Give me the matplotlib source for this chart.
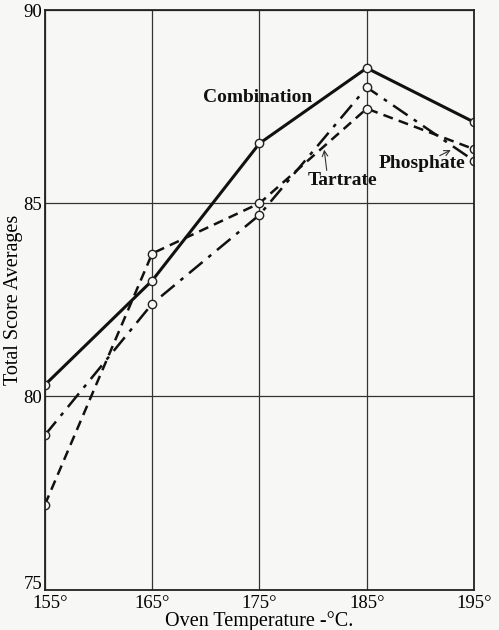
import matplotlib
matplotlib.use("Agg")
import matplotlib.pyplot as plt
import matplotlib.transforms as mtransforms

temps = [155, 165, 175, 185, 195]
combination = [80.3, 83.0, 86.55, 88.5, 87.1]
tartrate = [79.0, 82.4, 84.7, 88.0, 86.1]
phosphate = [77.2, 83.7, 85.0, 87.45, 86.4]
x_ticks = [155, 165, 175, 185, 195]
x_tick_labels = ["155°", "165°", "175°", "185°", "195°"]
y_ticks = [75, 80, 85, 90]

plt.rcParams['font.family'] = ['Liberation Serif', 'DejaVu Serif']
bg = "#f7f7f5"
fig = plt.figure(figsize=(4.99, 6.30), dpi=100, facecolor=bg)
ax = fig.add_axes([0.090, 0.064, 0.860, 0.920], facecolor=bg)

mk = dict(marker='o', markersize=6, markerfacecolor=bg, markeredgecolor='#222222', markeredgewidth=1.0, color='#111111')
ax.plot(temps, combination, linestyle='-', linewidth=2.2, **mk)
ax.plot(temps, tartrate, linestyle=(0, (7, 3, 1.5, 3)), linewidth=1.8, **mk)
ax.plot(temps, phosphate, linestyle=(0, (4, 2.5)), linewidth=1.8, **mk)

ax.set_xlim(155, 195)
ax.set_ylim(75, 90)
ax.set_xticks(x_ticks)
ax.set_xticklabels(x_tick_labels, fontsize=13.5)
ax.set_yticks(y_ticks)
ax.set_yticklabels([str(v) for v in y_ticks], fontsize=13.5)
ax.tick_params(axis='x', length=0, pad=4)
ax.tick_params(axis='y', length=0, pad=2)
ax.grid(True, color='#333333', linewidth=0.9)
for s in ax.spines.values():
    s.set_linewidth(1.3)
    s.set_color('#222222')

# small nudges of corner tick labels, as in the reference
dx = mtransforms.ScaledTranslation(5 / 100, 0, fig.dpi_scale_trans)
dy = mtransforms.ScaledTranslation(0, 7 / 100, fig.dpi_scale_trans)
xl = ax.get_xticklabels()
xl[0].set_transform(xl[0].get_transform() + dx)
yl = ax.get_yticklabels()
yl[0].set_transform(yl[0].get_transform() + dy)

ax.set_xlabel("Oven Temperature -°C.", fontsize=14.5, labelpad=-1)
ax.set_ylabel("Total Score Averages", fontsize=14.5, labelpad=0)

ax.text(169.7, 87.75, "Combination", fontsize=14, fontweight='bold', ha='left', va='center', color='#111111')
ax.text(179.5, 85.6, "Tartrate", fontsize=14, fontweight='bold', ha='left', va='center', color='#111111')
ax.text(186.1, 86.02, "Phosphate", fontsize=14, fontweight='bold', ha='left', va='center', color='#111111')
ax.annotate("", xy=(181.0, 86.46), xytext=(181.3, 85.78),
            arrowprops=dict(arrowstyle='->', color='#333333', lw=0.8))
ax.annotate("", xy=(193.06, 86.41), xytext=(191.57, 86.2),
            arrowprops=dict(arrowstyle='->', color='#333333', lw=0.8))

fig.savefig("out.png", dpi=100, facecolor=bg)
